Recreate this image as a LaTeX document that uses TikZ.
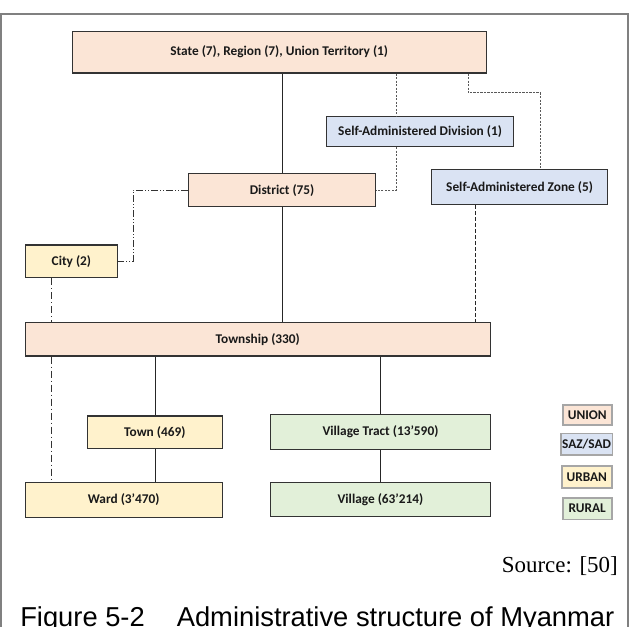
\documentclass[tikz,border=0pt]{standalone}
\usepackage{fontspec}
\newfontfamily\boxfont{Carlito}
\newfontfamily\capfont{Liberation Sans}
\newfontfamily\srcfont{Liberation Serif}
\newdimen\px \px=0.75pt
\definecolor{union}{HTML}{FBE5D6}
\definecolor{sazsad}{HTML}{DAE3F3}
\definecolor{urban}{HTML}{FFF2CC}
\definecolor{rural}{HTML}{E2F0D9}
\definecolor{edge}{HTML}{333333}
\definecolor{frame}{HTML}{808080}
\begin{document}
\begin{tikzpicture}[x=0.75pt,y=-0.75pt,
  unitbox/.style={draw=edge, line width=1.2\px, inner sep=0pt, anchor=north west,
    font=\boxfont\bfseries\fontsize{10}{12}\selectfont, text=black!90},
  keybox/.style={unitbox, draw=black!35, line width=1.6\px},
  solidlink/.style={draw=black!85, line width=0.9\px},
  finedash/.style={draw=black!65, line width=1\px, dash pattern=on 2.2\px off 1.3\px},
  longdash/.style={draw=black!85, line width=0.9\px, dash pattern=on 4\px off 2\px},
  dashdotdot/.style={draw=black!80, line width=1\px, dash pattern=on 7\px off 2\px on 1\px off 2\px on 1\px off 2\px},
  dashdot/.style={draw=black!80, line width=1\px, dash pattern=on 7\px off 3\px on 1\px off 3\px}]
\useasboundingbox (0,0) rectangle (629,626);

% outer frame
\draw[frame, line width=2\px] (1,640) -- (1,13.5) -- (627.5,13.5) -- (627.5,640);

% boxes of the hierarchy
\node[unitbox, fill=union, minimum width=414.2\px, minimum height=41.6\px] (state) at (71.5,30.7) {State (7), Region (7), Union Territory (1)};
\node[unitbox, fill=sazsad, minimum width=187\px, minimum height=30.3\px] (sad) at (326,115.7) {Self-Administered Division (1)};
\node[unitbox, fill=union, minimum width=187\px, minimum height=33\px] (district) at (188,173) {District (75)};
\node[unitbox, fill=sazsad, minimum width=176\px, minimum height=35\px] (saz) at (431,169) {Self-Administered Zone (5)};
\node[unitbox, fill=urban, minimum width=92.4\px, minimum height=32.7\px] (city) at (24.6,244.3) {City (2)};
\node[unitbox, fill=union, minimum width=465.1\px, minimum height=33.3\px] (township) at (24.6,322) {Township (330)};
\node[unitbox, fill=urban, minimum width=134.8\px, minimum height=32.7\px] (town) at (86.8,415.3) {Town (469)};
\node[unitbox, fill=rural, minimum width=219.7\px, minimum height=34.7\px] (tract) at (270,414) {Village Tract (13’590)};
\node[unitbox, fill=urban, minimum width=197\px, minimum height=34.7\px] (ward) at (24.6,482) {Ward (3’470)};
\node[unitbox, fill=rural, minimum width=219.7\px, minimum height=33.7\px] (village) at (270,482) {Village (63’214)};

% legend
\node[keybox, fill=union, minimum width=49\px, minimum height=20\px] (kunion) at (562,404) {UNION};
\node[keybox, fill=sazsad, minimum width=51.6\px, minimum height=21.3\px] (ksaz) at (560,432.7) {SAZ/SAD};
\node[keybox, fill=urban, minimum width=50\px, minimum height=22\px] (kurban) at (561,465) {URBAN};
\node[keybox, fill=rural, minimum width=49\px, minimum height=21.7\px] (krural) at (562,497) {RURAL};

% guide coordinates for the bends
\coordinate (sadx) at (396.5,0);
\coordinate (sazx) at (468,0);
\coordinate (sazbend) at (540,92.7);
\coordinate (sazdown) at (475,0);
\coordinate (citybend) at (133,0);
\coordinate (cityx) at (51,0);
\coordinate (townx) at (155,0);
\coordinate (tractx) at (380,0);
\coordinate (cityend) at (51,479);

% solid links
\draw[solidlink] (state.south -| district.north) -- (district.north);
\draw[solidlink] (district.south) -- (district.south |- township.north);
\draw[solidlink] (township.south -| townx) -- (town.north -| townx);
\draw[solidlink] (town.south -| townx) -- (ward.north -| townx);
\draw[solidlink] (township.south -| tractx) -- (tract.north -| tractx);
\draw[solidlink] (tract.south -| tractx) -- (village.north -| tractx);

% self-administered links
\draw[finedash] (state.south -| sadx) -- (sad.north -| sadx);
\draw[finedash] (sad.south -| sadx) |- (district.east);
\draw[finedash] (state.south -| sazx) |- (sazbend) -- (saz.north -| sazbend);
\draw[longdash] (saz.south -| sazdown) -- (township.north -| sazdown);

% city links
\draw[dashdotdot] (district.west) -| (citybend |- city.east) -- (city.east);
\draw[dashdot] (city.south -| cityx) -- (township.north -| cityx);
\draw[dashdot] (township.south -| cityx) -- (cityend);

% source and caption
\node[anchor=base east, inner sep=0pt, font=\srcfont\fontsize{17.2}{20}\selectfont] (source) at (618,572) {Source: [50]};
\node[anchor=base west, inner sep=0pt, font=\capfont\fontsize{20.5}{24}\selectfont] (caption) at (20,626) {Figure 5-2\hspace{24pt}Administrative structure of Myanmar};
\end{tikzpicture}
\end{document}
